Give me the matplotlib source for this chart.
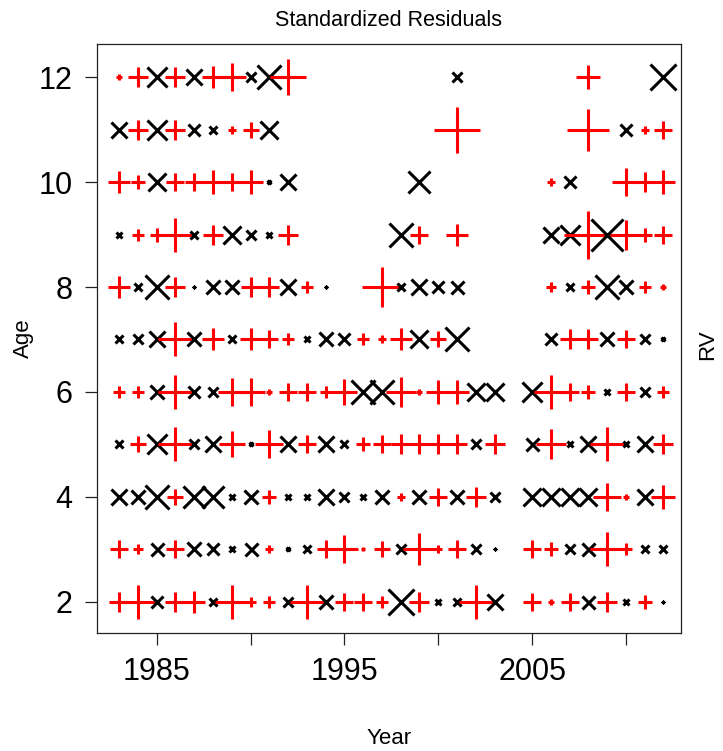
import numpy as np
import matplotlib
matplotlib.use("Agg")
import matplotlib.pyplot as plt

nan = np.nan
years = list(range(1983, 2013))
ages = [2, 3, 4, 5, 6, 7, 8, 9, 10, 11, 12]

res_age12 = [0.3, 1.1, -1.6, 1.1, -1.3, 1.2, 1.5, -0.8, -1.9, 2.0,
             nan, nan, nan, nan, nan, nan, nan, nan, -0.8,
             nan, nan, nan, nan, nan, nan, 1.3, nan, nan, nan, -2.0]
res_age11 = [-1.3, 1.1, -1.5, 1.1, -0.9, -0.6, 0.45, 0.9, -1.4,
             nan, nan, nan, nan, nan, nan, nan, nan, nan, 2.45,
             nan, nan, nan, nan, nan, nan, 2.3, nan, -0.9, 0.4, 1.0]
res_age10 = [1.2, 0.8, -1.4, 1.0, 1.0, 1.3, 1.0, 1.3, -0.3, -1.2,
             nan, nan, nan, nan, nan, nan, -1.7,
             nan, nan, nan, nan, nan, nan, 0.4, -0.9, nan, nan, 1.5, 1.1, 1.3]
res_age9 = [-0.5, 0.7, 0.8, 1.85, -0.6, 1.1, -1.4, -0.7, -0.4, 1.1,
            nan, nan, nan, nan, nan, -1.9, 1.0, nan, 1.2,
            nan, nan, nan, nan, -1.3, -1.5, 2.65, -2.5, 1.6, 0.8, 1.0]
res_age8 = [1.2, -0.6, -1.9, 1.1, -0.2, -1.1, -1.1, 1.1, 1.1, -1.2, 0.7, -0.2,
            nan, nan, 2.2, -0.6, -1.2, -0.9, -1.0,
            nan, nan, nan, nan, 0.5, -0.6, 0.8, -1.8, -1.1, 0.6, 0.3]
res_age7 = [-0.6, -0.8, -1.2, 1.9, -1.1, 1.2, -0.6, 1.2, 1.0, 0.6, -0.4, -1.1,
            -0.9, 0.7, 0.4, 1.2, -1.4, 0.9, -1.8,
            nan, nan, nan, nan, -0.9, 1.1, 1.1, -1.1, 1.0, -0.8, -0.3]
res_age6 = [0.6, 0.7, -1.15, 1.9, -0.9, -0.8, 1.5, 1.5, 0.3, 1.0, 1.0, 0.6,
            1.4, -1.8, -1.8, 1.6, 0.3, 1.3, 1.3, -1.45, -1.45,
            nan, -1.5, 1.9, 1.0, 0.8, -0.4, 1.0, -0.8, 0.6]
res_age5 = [-0.6, 0.9, -1.5, 1.9, -0.8, -1.2, 1.4, -0.3, 1.5, -1.2, 1.0, -1.2,
            -0.6, 0.8, 1.0, 1.1, 1.1, 1.1, 1.1, -0.7, 1.1,
            nan, -1.0, 1.6, -0.4, -1.2, 1.8, -0.4, -1.3, 1.1]
res_age4 = [-1.2, -1.1, -1.9, 0.9, -1.75, -1.75, -0.4, -1.1, 0.8, -0.5, -0.5, -1.2,
            -0.8, -0.4, -1.1, 0.4, -1.1, 1.0, -1.1, 1.1, -0.7,
            nan, -1.4, -1.4, -1.4, -1.4, 1.5, 0.3, -1.3, 1.3]
res_age3 = [1.0, 0.5, -1.0, 1.0, -1.1, -0.9, -0.4, -1.0, 0.4, -0.3, -0.6, 1.0,
            1.5, 0.25, 0.9, -0.8, 1.7, 0.4, 1.0, -0.7, -0.2,
            nan, 1.0, 0.8, -0.7, -1.0, 1.8, 0.6, -0.6, -0.6]
res_age2 = [1.1, 1.8, -0.9, 1.1, 1.2, -0.6, 1.8, 0.5, 0.7, -0.8, 1.8, -1.1,
            1.0, 1.0, 0.6, -2.0, 1.1, -0.5, -0.6, 1.8, -1.3,
            nan, 1.0, 0.3, 1.0, -1.0, 1.1, -0.5, 0.8, -0.2]

residuals = {2: res_age2, 3: res_age3, 4: res_age4, 5: res_age5, 6: res_age6,
             7: res_age7, 8: res_age8, 9: res_age9, 10: res_age10,
             11: res_age11, 12: res_age12}

plt.rcParams['font.family'] = ['Liberation Sans', 'DejaVu Sans']

fig = plt.figure(figsize=(7.23, 7.51), dpi=100)
ax = fig.add_axes([0.1337, 0.1571, 0.942 - 0.1337, 0.941 - 0.1571])

scale = 9.36  # points of marker width per unit residual
for age in ages:
    vals = residuals[age]
    for yr, v in zip(years, vals):
        if np.isnan(v):
            continue
        if v >= 0:
            ax.plot(yr, age, marker='+', color='#ff0000', markersize=scale * abs(v) * np.sqrt(2),
                    markeredgewidth=2.2, linestyle='none')
        else:
            ax.plot(yr, age, marker='x', color='black', markersize=scale * abs(v),
                    markeredgewidth=2.2, linestyle='none')

ax.set_xlim(1981.8, 2012.94)
ax.set_ylim(1.4, 12.63)

ax.set_xticks([1985, 1990, 1995, 2000, 2005, 2010])
ax.set_xticklabels(['1985', '', '1995', '', '2005', ''])
ax.set_yticks([2, 4, 6, 8, 10, 12])
ax.set_yticklabels(['2', '4', '6', '8', '10', '12'])
ax.tick_params(axis='both', direction='out', length=8.5, width=0.9, labelsize=22, pad=9,
               colors='#222222', labelcolor='black')
for sp in ax.spines.values():
    sp.set_linewidth(0.9)
    sp.set_color('#222222')

ax.set_title('Standardized Residuals', fontsize=15.5, pad=13)
ax.set_xlabel('Year', fontsize=16, labelpad=29)
ax.set_ylabel('Age', fontsize=16, labelpad=3)
ax.text(1.045, 0.49, 'RV', transform=ax.transAxes, rotation=90, fontsize=16,
        va='center', ha='center')

fig.savefig('out.png', dpi=100)
